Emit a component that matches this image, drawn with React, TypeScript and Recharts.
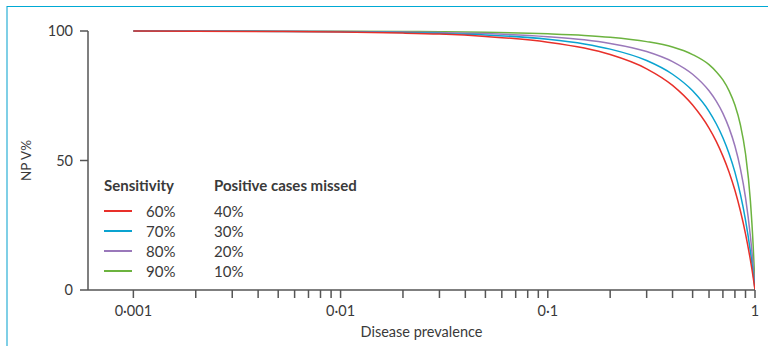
import React from "react";
import { LineChart, Line, XAxis, YAxis } from "recharts";

const prevalence = [0.001, 0.002, 0.005, 0.01, 0.02, 0.03, 0.05, 0.1, 0.15, 0.2, 0.3, 0.4, 0.5, 0.6, 0.65, 0.7, 0.75, 0.8, 0.85, 0.9, 0.95, 0.98, 0.99, 1];
const sens60 = [99.96, 99.92, 99.8, 99.6, 99.2, 98.8, 97.9, 95.7, 93.4, 90.9, 85.4, 79.0, 71.4, 62.5, 57.4, 51.7, 45.5, 38.5, 30.6, 21.7, 11.6, 4.9, 2.5, 0];
const sens70 = [99.97, 99.94, 99.85, 99.7, 99.4, 99.1, 98.5, 96.8, 95.0, 93.0, 88.6, 83.3, 76.9, 69.0, 64.2, 58.8, 52.6, 45.5, 37.0, 27.0, 14.9, 6.4, 3.3, 0];
const sens80 = [99.98, 99.96, 99.9, 99.8, 99.6, 99.4, 99.0, 97.8, 96.6, 95.2, 92.1, 88.2, 83.3, 76.9, 72.9, 68.2, 62.5, 55.6, 46.9, 35.7, 20.8, 9.3, 4.8, 0];
const sens90 = [99.99, 99.98, 99.95, 99.9, 99.8, 99.7, 99.5, 98.9, 98.3, 97.6, 95.9, 93.8, 90.9, 87.0, 84.3, 81.1, 76.9, 71.4, 63.8, 52.6, 34.5, 17.0, 9.2, 0];

const seriesNames = ["60%", "70%", "80%", "90%"];
const missedLabels = ["40%", "30%", "20%", "10%"];
const seriesColors = ["#e8302a", "#0aa3d0", "#9a78ba", "#6cb33f"];

const xMajor = [0.001, 0.01, 0.1, 1];
const xMajorLabels = ["0·001", "0·01", "0·1", "1"];
const xTicks = [
  0.001, 0.002, 0.003, 0.004, 0.005, 0.006, 0.007, 0.008, 0.009,
  0.01, 0.02, 0.03, 0.04, 0.05, 0.06, 0.07, 0.08, 0.09,
  0.1, 0.2, 0.3, 0.4, 0.5, 0.6, 0.7, 0.8, 0.9, 1,
];
const yTicks = [0, 50, 100];

const data = prevalence.map((p, i) => ({
  p,
  s60: sens60[i],
  s70: sens70[i],
  s80: sens80[i],
  s90: sens90[i],
}));

const FONT = "Lato, 'Open Sans', sans-serif";
const TEXT = "#3a3a3a";
const AXIS = "#555555";

const fmtX = (v: number) => {
  const idx = xMajor.findIndex((m) => Math.abs(m - v) / m < 1e-6);
  return idx >= 0 ? xMajorLabels[idx] : "";
};

export default function App() {
  const keys = ["s60", "s70", "s80", "s90"];
  const drawOrder = [3, 2, 1, 0];
  const rowY = [211, 231, 251, 271];
  return (
    <div style={{ position: "absolute", left: 0, top: 0, width: 768, height: 346, background: "#fff", fontFamily: FONT }}>
      <div style={{ position: "absolute", left: 6, top: 6, width: 2, height: 340, background: "#7fcfe6" }} />
      <div style={{ position: "absolute", left: 7, top: 5.5, width: 761, height: 1.5, background: "#00a9d4" }} />
      <LineChart
        width={768}
        height={346}
        data={data}
        margin={{ top: 31, right: 13, bottom: 26, left: 28 }}
        style={{ position: "absolute", left: 0, top: 0 }}
      >
        <XAxis
          dataKey="p"
          type="number"
          scale="log"
          domain={[0.000604, 1]}
          allowDataOverflow
          ticks={xTicks}
          interval={0}
          tickFormatter={fmtX}
          tickSize={8}
          tickMargin={8}
          height={30}
          stroke={AXIS}
          strokeWidth={1.5}
          tick={{ fill: TEXT, fontSize: 14.5, fontFamily: FONT }}
          tickLine={{ stroke: AXIS, strokeWidth: 1.5 }}
          label={{ value: "Disease prevalence", position: "insideBottom", offset: -17, fill: TEXT, fontSize: 14.5, fontFamily: FONT }}
        />
        <YAxis
          type="number"
          domain={[0, 100]}
          ticks={yTicks}
          interval={0}
          tickSize={8}
          tickMargin={7}
          width={60}
          stroke={AXIS}
          strokeWidth={1.5}
          tick={{ fill: TEXT, fontSize: 14.5, fontFamily: FONT }}
          tickLine={{ stroke: AXIS, strokeWidth: 1.5 }}
          label={{ value: "NP V%", angle: -90, position: "insideLeft", offset: 0, dx: -2, fill: TEXT, fontSize: 13.5, fontFamily: FONT, style: { textAnchor: "middle" } }}
        />
        {drawOrder.map((i) => (
          <Line
            key={keys[i]}
            dataKey={keys[i]}
            type="monotone"
            stroke={seriesColors[i]}
            strokeWidth={1.5}
            dot={false}
            activeDot={false}
            isAnimationActive={false}
          />
        ))}
      </LineChart>
      <div style={{ position: "absolute", left: 0, top: 0, color: TEXT, fontSize: 15, lineHeight: "20px", whiteSpace: "nowrap" }}>
        <div style={{ position: "absolute", left: 104, top: 175, fontWeight: 700 }}>Sensitivity</div>
        <div style={{ position: "absolute", left: 214, top: 175, fontWeight: 700 }}>Positive cases missed</div>
        {seriesNames.map((n, i) => (
          <React.Fragment key={n}>
            <div style={{ position: "absolute", left: 104, top: rowY[i] - 0.75, width: 28, height: 1.5, background: seriesColors[i] }} />
            <div style={{ position: "absolute", left: 146, top: rowY[i] - 10 }}>{n}</div>
            <div style={{ position: "absolute", left: 214, top: rowY[i] - 10 }}>{missedLabels[i]}</div>
          </React.Fragment>
        ))}
      </div>
    </div>
  );
}
